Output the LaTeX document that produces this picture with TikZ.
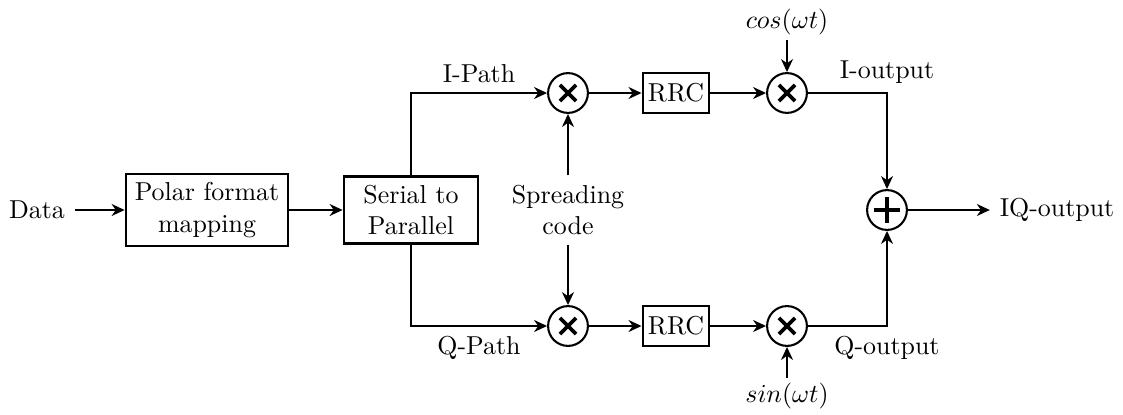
\documentclass[tikz,border=0pt]{standalone}
\usepackage{amsmath}
\usepackage{amssymb}
\usetikzlibrary{arrows.meta}

\begin{document}
\begin{tikzpicture}[x=0.01357cm,y=-0.01357cm,line width=1pt,
    >={Stealth[length=5pt,width=4.6pt,inset=1.6pt]},
    block/.style={draw,align=center,minimum height=0.9cm},
    filt/.style={draw,minimum width=0.9cm,minimum height=0.54cm,inner sep=1pt},
    mixer/.style={draw,circle,line width=0.8pt,minimum size=0.54cm,inner sep=0pt,
      path picture={\draw[line width=1.4pt]
        ([shift={(-0.11cm,-0.11cm)}]path picture bounding box.center) -- ([shift={(0.11cm,0.11cm)}]path picture bounding box.center)
        ([shift={(-0.11cm,0.11cm)}]path picture bounding box.center) -- ([shift={(0.11cm,-0.11cm)}]path picture bounding box.center);}},
    adder/.style={draw,circle,line width=0.8pt,minimum size=0.54cm,inner sep=0pt,
      path picture={\draw[line width=1.4pt]
        ([xshift=-0.175cm]path picture bounding box.center) -- ([xshift=0.175cm]path picture bounding box.center)
        ([yshift=-0.175cm]path picture bounding box.center) -- ([yshift=0.175cm]path picture bounding box.center);}}]
  \useasboundingbox (0,0) rectangle (1123,414);

  \node (data) at (37,210) {Data};
  \node[block,minimum width=2.2cm] (polar) at (207,210) {Polar format\\mapping};
  \node[block,minimum width=1.82cm] (sp) at (411,210) {Serial to\\Parallel};
  \node[align=center] (spread) at (568,210) {Spreading\\code};
  \node[mixer] (mi) at (568,93) {};
  \node[mixer] (mq) at (568,326) {};
  \node[filt] (rrci) at (676,93) {RRC};
  \node[filt] (rrcq) at (676,326) {RRC};
  \node[mixer] (ci) at (787,93) {};
  \node[mixer] (cq) at (787,326) {};
  \node[inner sep=1.5pt] (cos) at (787,22) {$cos(\omega t)$};
  \node[inner sep=1.5pt] (sin) at (787,396) {$sin(\omega t)$};
  \node[adder] (sum) at (887,210) {};
  \node (iq) at (1057,210) {IQ-output};

  \path[->]
    (data) edge (polar)
    (polar) edge (sp)
    (spread) edge (mi)
    (spread) edge (mq)
    (mi) edge (rrci)
    (rrci) edge (ci)
    (mq) edge (rrcq)
    (rrcq) edge (cq)
    (cos) edge (ci)
    (sin) edge (cq)
    (sum) edge (iq);
  \draw[->] (sp.north) |- node [pos=0.75,above] {I-Path} (mi.west);
  \draw[->] (sp.south) |- node [pos=0.75,below] {Q-Path} (mq.west);
  \draw[->] (ci.east) -| node [pos=0.5,above] {I-output} (sum.north);
  \draw[->] (cq.east) -| node [pos=0.5,below] {Q-output} (sum.south);
\end{tikzpicture}
\end{document}
